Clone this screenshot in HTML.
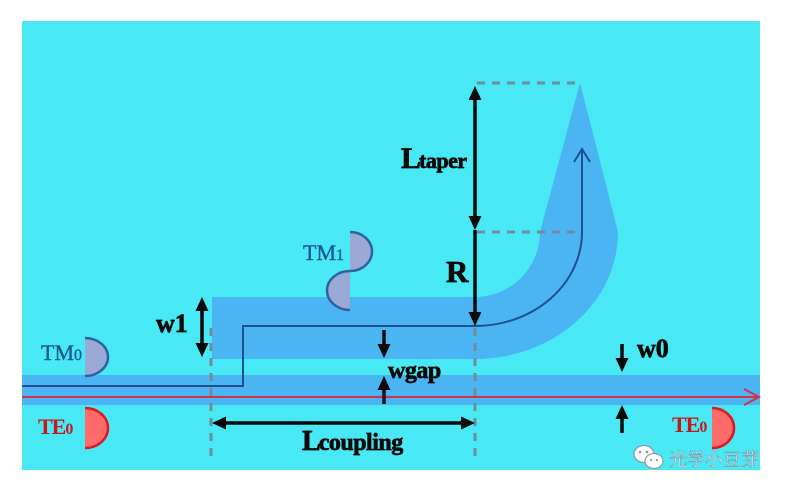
<!DOCTYPE html>
<html><head><meta charset="utf-8"><style>
html,body{margin:0;padding:0;background:#fff;}
svg{display:block;}
text{font-family:"Liberation Serif","Noto Serif CJK SC",serif;}
</style></head><body>
<svg width="792" height="493" viewBox="0 0 792 493" xmlns="http://www.w3.org/2000/svg">
<rect x="0" y="0" width="792" height="493" fill="#ffffff"/>
<rect x="22" y="21" width="738" height="449" fill="#48e8f5"/>
<!-- waveguides -->
<rect x="22" y="375" width="738" height="30" fill="#4bb4f2"/>
<path d="M212,297 H475 A65,65 0 0 0 540,232 L580,83 L618,232 A143,127 0 0 1 475,359 H212 Z" fill="#4bb4f2"/>
<!-- dashed guides -->
<g stroke="#758c98" stroke-width="3" stroke-dasharray="8 7" fill="none">
<line x1="211" y1="328" x2="211" y2="456"/>
<line x1="475" y1="328" x2="475" y2="458"/>
<line x1="477" y1="83" x2="580" y2="83"/>
<line x1="477" y1="232" x2="582" y2="232"/>
</g>
<!-- center path -->
<path d="M22,386 H243 V326 H475 A107,94 0 0 0 582,232 V149" fill="none" stroke="#1f4f8f" stroke-width="2"/>
<path d="M574,162 L582,149 L590,162" fill="none" stroke="#1f4f8f" stroke-width="2"/>
<!-- red line -->
<line x1="22" y1="397" x2="758" y2="397" stroke="#d23245" stroke-width="2"/>
<path d="M744,389 L759,397 L744,405" fill="none" stroke="#d23245" stroke-width="2"/>
<!-- black arrows -->
<g stroke="#0a0a0a" stroke-width="3.5" fill="none">
<line x1="202" y1="307" x2="202" y2="347"/>
<line x1="475" y1="95" x2="475" y2="220"/>
<line x1="475" y1="230" x2="475" y2="315"/>
<line x1="384" y1="330" x2="384" y2="348"/>
<line x1="384" y1="386" x2="384" y2="404"/>
<line x1="622" y1="344" x2="622" y2="362"/>
<line x1="622" y1="415" x2="622" y2="433"/>
<line x1="222" y1="423" x2="465" y2="423"/>
</g>
<g fill="#0a0a0a">
<path d="M202,297 L195.5,311 L208.5,311 Z"/>
<path d="M202,357 L195.5,343 L208.5,343 Z"/>
<path d="M475,86 L468.5,100 L481.5,100 Z"/>
<path d="M475,230 L468.5,216 L481.5,216 Z"/>
<path d="M475,326 L468.5,312 L481.5,312 Z"/>
<path d="M384,358 L377.5,344 L390.5,344 Z"/>
<path d="M384,376 L377.5,390 L390.5,390 Z"/>
<path d="M622,372 L615.5,358 L628.5,358 Z"/>
<path d="M622,405 L615.5,419 L628.5,419 Z"/>
<path d="M212,423 L226,416.5 L226,429.5 Z"/>
<path d="M475,423 L461,416.5 L461,429.5 Z"/>
</g>
<!-- mode profiles -->
<path d="M85,338 A23,19 0 0 1 85,376 Z" fill="#9ba9d6"/>
<path d="M85,338 A23,19 0 0 1 85,376" fill="none" stroke="#2d64a0" stroke-width="2.5"/>
<path d="M85,408 A23,20 0 0 1 85,448 Z" fill="#ff6b6b"/>
<path d="M85,408 A23,20 0 0 1 85,448" fill="none" stroke="#e01a1a" stroke-width="2.5"/>
<path d="M712,408 A22,20 0 0 1 712,448 Z" fill="#ff6b6b"/>
<path d="M712,408 A22,20 0 0 1 712,448" fill="none" stroke="#e01a1a" stroke-width="2.5"/>
<path d="M350,232 A22,19.5 0 0 1 350,271 A23,19.5 0 0 0 350,310 Z" fill="#9ba9d6"/>
<path d="M350,232 A22,19.5 0 0 1 350,271 A23,19.5 0 0 0 350,310" fill="none" stroke="#2d64a0" stroke-width="2.5"/>
<!-- labels -->
<g font-weight="bold" fill="#0a0a0a" stroke="#0a0a0a" stroke-width="0.7">
<text x="401" y="168" font-size="30" letter-spacing="-2">L<tspan font-size="22" letter-spacing="-0.5">taper</tspan></text>
<text x="446" y="282" font-size="31">R</text>
<text x="156" y="332" font-size="26">w1</text>
<text x="388" y="378" font-size="24" letter-spacing="-0.5">wgap</text>
<text x="637" y="357" font-size="26">w0</text>
<text x="302" y="450" font-size="28" letter-spacing="-2">L<tspan font-size="24" letter-spacing="-0.5">coupling</tspan></text>
</g>
<text x="41" y="360" font-size="22" fill="#1f5a92" stroke="#1f5a92" stroke-width="0.4">TM<tspan font-size="16">0</tspan></text>
<text x="303" y="260" font-size="22" fill="#1f5a92" stroke="#1f5a92" stroke-width="0.4">TM<tspan font-size="16">1</tspan></text>
<text x="38" y="434" font-size="22" font-weight="bold" fill="#c81818" letter-spacing="-1">TE<tspan font-size="16">0</tspan></text>
<text x="672" y="432" font-size="22" font-weight="bold" fill="#c81818" letter-spacing="-1">TE<tspan font-size="16">0</tspan></text>
<!-- watermark -->
<g stroke="#8a9aa4" stroke-width="1.2" fill="#ffffff">
<ellipse cx="644" cy="454" rx="10" ry="8.5"/>
<ellipse cx="654" cy="461" rx="9" ry="7.5"/>
</g>
<g fill="#8a9aa4">
<circle cx="640" cy="452" r="1.3"/><circle cx="647" cy="452" r="1.3"/>
<circle cx="651" cy="460" r="1.1"/><circle cx="657" cy="460" r="1.1"/>
</g>
<text x="669" y="466" font-size="18" fill="#ffffff" stroke="#8a9aa4" stroke-width="0.6" font-family="'Noto Sans CJK SC','WenQuanYi Zen Hei',sans-serif">光学小豆芽</text>
</svg>
</body></html>
